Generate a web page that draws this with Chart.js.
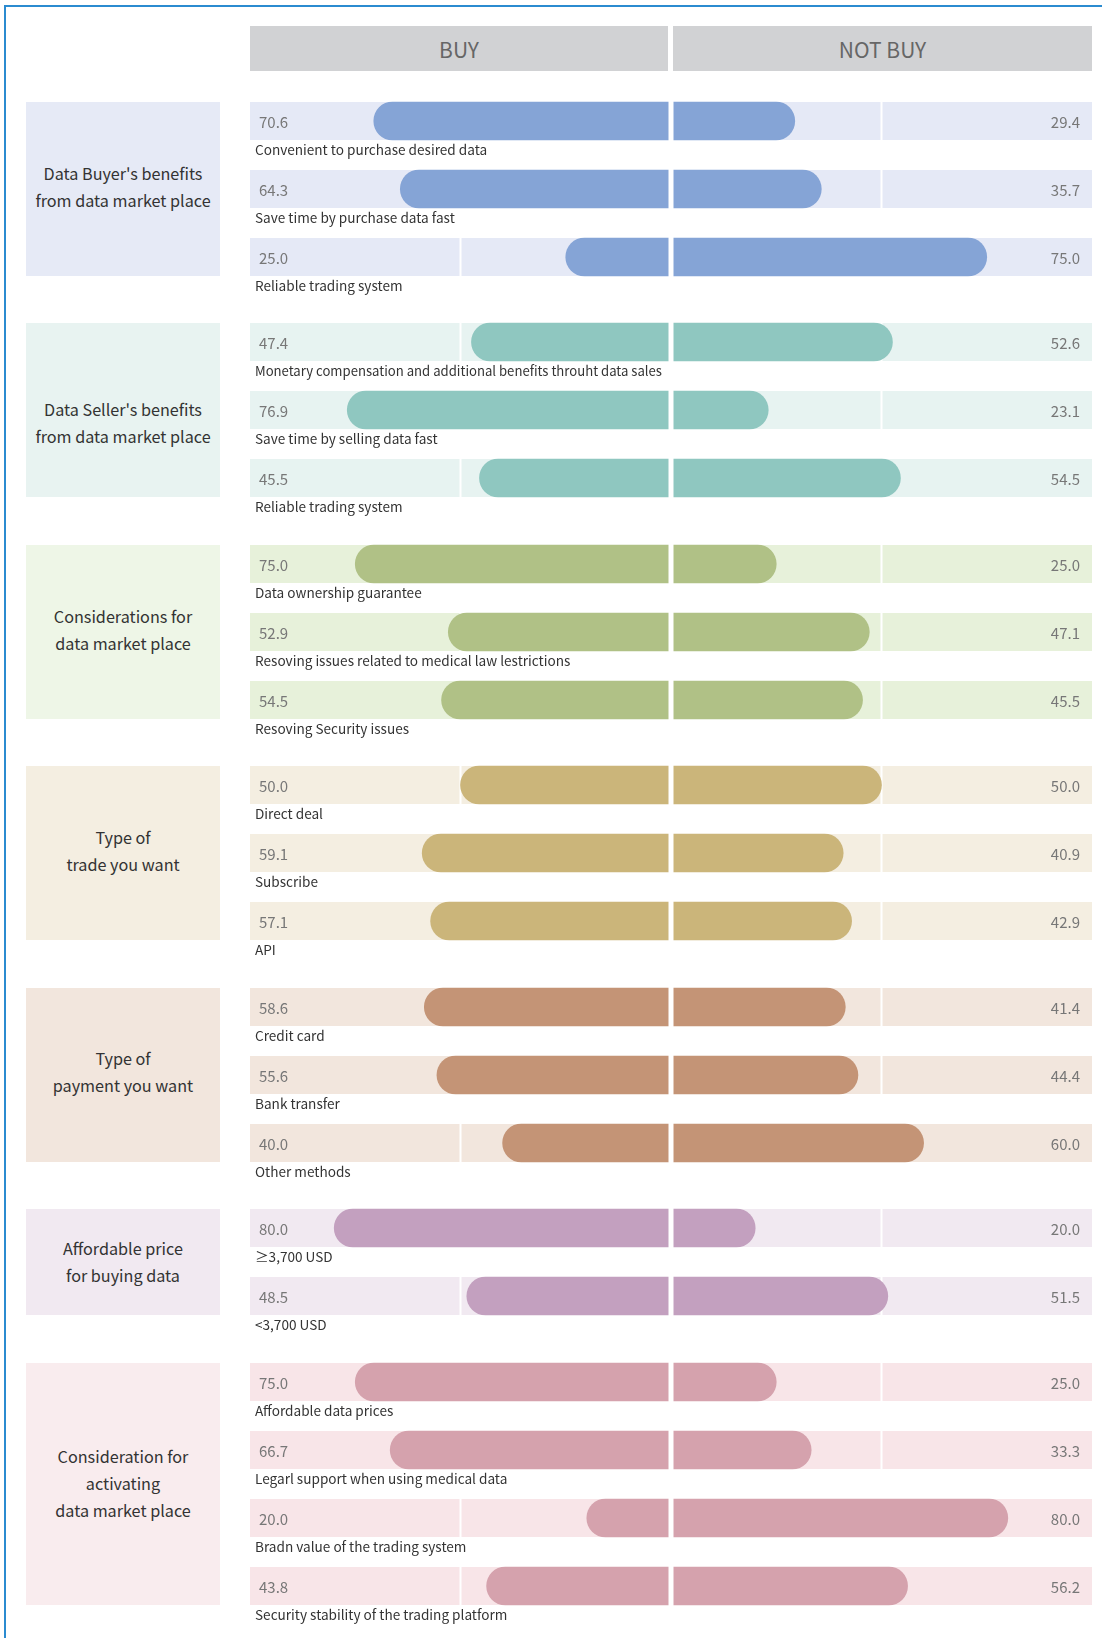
<!DOCTYPE html>
<html>
<head>
<meta charset="utf-8">
<script src="https://cdn.jsdelivr.net/npm/chart.js@4.4.1/dist/chart.umd.min.js"></script>
<style>
  html, body { margin: 0; padding: 0; background: #fff; }
  body { width: 1102px; height: 1638px; position: relative; overflow: hidden; font-family: 'Noto Sans CJK KR', 'Noto Sans', sans-serif; }
  .frame { position: absolute; left: 4px; top: 5px; right: -10px; bottom: -10px; border-left: 2px solid #2b8bd0; border-top: 2px solid #2b8bd0; }
  .head { position: absolute; top: 26px; height: 45px; background: #d1d2d4; color: #666; font-size: 21px; display: flex; align-items: center; justify-content: center; }
  .group { position: absolute; left: 26px; width: 194px; display: flex; align-items: center; justify-content: center; text-align: center; color: #333; font-size: 16.2px; line-height: 27px; }
  .chartBox { position: absolute; left: 250px; width: 842px; }
</style>
</head>
<body>
<div class="frame"></div>
<div class="head" style="left:250px;width:418px">BUY</div>
<div class="head" style="left:673px;width:419px">NOT BUY</div>
<div id="groups"></div>
<script>
const groupNames = [
    ["Data Buyer's benefits", 'from data market place'],
    ["Data Seller's benefits", 'from data market place'],
    ['Considerations for', 'data market place'],
    ['Type of', 'trade you want'],
    ['Type of', 'payment you want'],
    ['Affordable price', 'for buying data'],
    ['Consideration for', 'activating', 'data market place'],
];
const itemLabels = [
    ['Convenient to purchase desired data', 'Save time by purchase data fast', 'Reliable trading system'],
    ['Monetary compensation and additional benefits throuht data sales', 'Save time by selling data fast', 'Reliable trading system'],
    ['Data ownership guarantee', 'Resoving issues related to medical law lestrictions', 'Resoving Security issues'],
    ['Direct deal', 'Subscribe', 'API'],
    ['Credit card', 'Bank transfer', 'Other methods'],
    ['\u22653,700 USD', '<3,700 USD'],
    ['Affordable data prices', 'Legarl support when using medical data', 'Bradn value of the trading system', 'Security stability of the trading platform'],
];
const buyPct = [
    [70.6, 64.3, 25.0],
    [47.4, 76.9, 45.5],
    [75.0, 52.9, 54.5],
    [50.0, 59.1, 57.1],
    [58.6, 55.6, 40.0],
    [80.0, 48.5],
    [75.0, 66.7, 20.0, 43.8],
];
const notBuyPct = [
    [29.4, 35.7, 75.0],
    [52.6, 23.1, 54.5],
    [25.0, 47.1, 45.5],
    [50.0, 40.9, 42.9],
    [41.4, 44.4, 60.0],
    [20.0, 51.5],
    [25.0, 33.3, 80.0, 56.2],
];

// styles
const barColors = ['#85a4d6', '#8fc7c0', '#b0c186', '#cbb57a', '#c49476', '#c3a0bf', '#d5a2ad'];
const trackColors = ['#e5e9f6', '#e7f3f1', '#e7f1da', '#f4eee1', '#f2e6dd', '#f1e9f1', '#f8e5e8'];
const boxColors = ['#e6eaf6', '#e8f3f1', '#eef6e7', '#f4eee1', '#f2e6dd', '#f1e9f1', '#f9ecee'];
const labelNudge = [-2, 12.5, -2.5, -2.5, -3, 0, 0];

const ROW = 68, BAR = 38, GAP = 17.5, FIRST_TOP = 101.5;

const rowDecor = {
    id: 'rowDecor',
    beforeDatasetsDraw(chart) {
        const { ctx, scales: { x, y } } = chart;
        const g = chart.options.plugins.rowDecor.group;
        ctx.save();
        chart.data.labels.forEach((_, i) => {
            const cy = y.getPixelForValue(i);
            ctx.fillStyle = trackColors[g];
            ctx.fillRect(x.left, cy - BAR / 2, x.right - x.left, BAR);
            ctx.fillStyle = '#fff';
            [-50, 50].forEach((v) => {
                ctx.fillRect(x.getPixelForValue(v) - 1, cy - BAR / 2, 2, BAR);
            });
        });
        ctx.restore();
    },
    afterDatasetsDraw(chart) {
        const { ctx, scales: { x, y } } = chart;
        const g = chart.options.plugins.rowDecor.group;
        const mid = x.getPixelForValue(0);
        ctx.save();
        chart.data.labels.forEach((label, i) => {
            const cy = y.getPixelForValue(i);
            ctx.fillStyle = '#fff';
            ctx.fillRect(mid - 2.5, cy - BAR / 2 - 1, 5, BAR + 2);

            ctx.font = "15px 'Noto Sans CJK KR'";
            ctx.textBaseline = 'middle';
            ctx.fillStyle = '#777';
            ctx.textAlign = 'left';
            ctx.fillText(buyPct[g][i].toFixed(1), x.left + 9, cy + 1);
            ctx.textAlign = 'right';
            ctx.fillText(notBuyPct[g][i].toFixed(1), x.right - 12, cy + 1);

            ctx.font = "13.6px 'Noto Sans CJK KR'";
            ctx.fillStyle = '#333';
            ctx.textAlign = 'left';
            ctx.fillText(label, x.left + 5, cy + 28.5, 407);
        });
        ctx.restore();
    },
};

const wrap = document.getElementById('groups');
let rowTop = FIRST_TOP;
groupNames.forEach((name, g) => {
    const n = itemLabels[g].length;

    const box = document.createElement('div');
    box.className = 'group';
    box.style.top = rowTop + 'px';
    box.style.height = (n * ROW - (ROW - BAR)) + 'px';
    box.style.background = boxColors[g];
    box.innerHTML = '<div style="transform:translateY(' + labelNudge[g] + 'px)">' + name.join('<br>') + '</div>';
    wrap.appendChild(box);

    const holder = document.createElement('div');
    holder.className = 'chartBox';
    const h = n * ROW + 10;
    holder.style.top = (rowTop - (ROW - BAR) / 2) + 'px';
    holder.style.height = h + 'px';
    const canvas = document.createElement('canvas');
    canvas.width = 842;
    canvas.height = h;
    holder.appendChild(canvas);
    wrap.appendChild(holder);

    new Chart(canvas, {
        type: 'bar',
        data: {
            labels: itemLabels[g],
            datasets: [
                { label: 'BUY', data: buyPct[g].map((v) => -v), backgroundColor: barColors[g] },
                { label: 'NOT BUY', data: notBuyPct[g], backgroundColor: barColors[g] },
            ],
        },
        options: {
            indexAxis: 'y',
            responsive: false,
            animation: false,
            layout: { padding: { bottom: 10 } },
            datasets: { bar: { grouped: false, barThickness: BAR, borderRadius: BAR / 2, borderSkipped: 'start' } },
            scales: {
                x: { display: false, min: -100, max: 100 },
                y: { display: false },
            },
            plugins: { legend: { display: false }, tooltip: { enabled: false }, rowDecor: { group: g } },
        },
        plugins: [rowDecor],
    });

    rowTop += n * ROW + GAP;
});
</script>
</body>
</html>
